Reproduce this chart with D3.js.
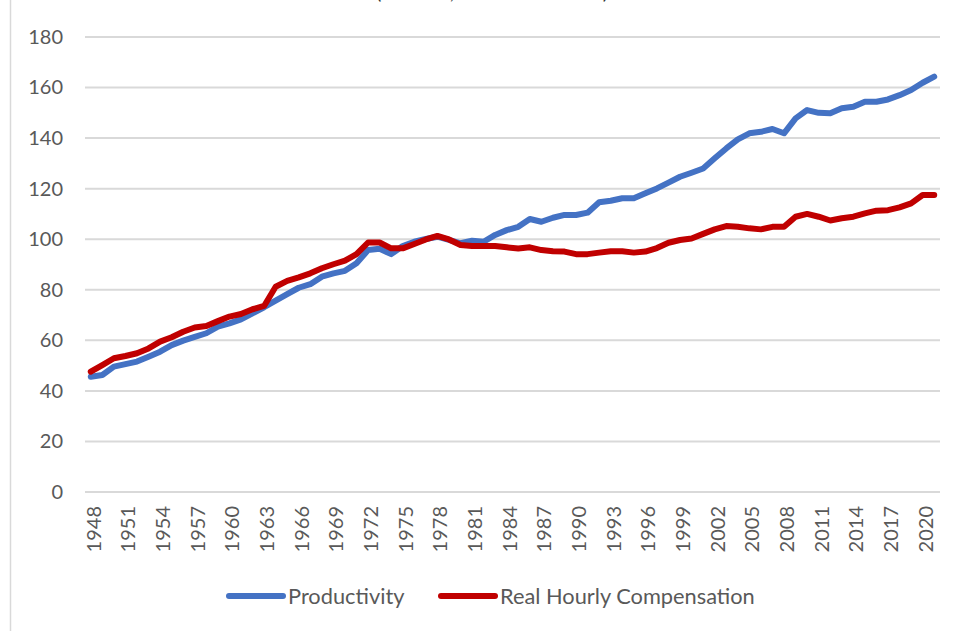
<!DOCTYPE html>
<html>
<head>
<meta charset="utf-8">
<script src="https://cdn.jsdelivr.net/npm/d3@7"></script>
<style>
  body { margin: 0; background: #fff; }
  svg { display: block; font-family: Lato, "Open Sans", sans-serif; }
</style>
</head>
<body>
<div id="chart"></div>
<script>
// values, 1948-2021
var years = d3.range(1948, 2022);

var productivity = [
  45.6, 46.3, 49.6, 50.6, 51.6, 53.5, 55.5, 58.1, 59.9, 61.4,
  62.8, 65.4, 66.7, 68.3, 70.7, 73.1, 75.7, 78.3, 80.8, 82.2,
  85.2, 86.5, 87.5, 90.5, 95.7, 96.2, 94.1, 97.3, 99.0, 100.1,
  101.0, 99.7, 98.4, 99.4, 99.0, 101.7, 103.6, 104.9, 108.0, 106.9,
  108.5, 109.6, 109.6, 110.5, 114.6, 115.2, 116.2, 116.2, 118.2, 120.1,
  122.4, 124.7, 126.3, 128.0, 132.0, 135.9, 139.5, 141.9, 142.5, 143.6,
  141.9, 147.8, 151.1, 150.0, 149.8, 151.8, 152.4, 154.4, 154.4, 155.3,
  157.0, 159.0, 161.9, 164.3
];

var compensation = [
  47.6, 50.2, 52.9, 53.8, 54.9, 56.8, 59.5, 61.2, 63.4, 65.1,
  65.7, 67.6, 69.4, 70.4, 72.3, 73.6, 81.2, 83.5, 84.9, 86.5,
  88.5, 90.1, 91.5, 94.1, 98.7, 98.7, 96.4, 96.4, 98.1, 99.9,
  101.3, 99.9, 97.7, 97.3, 97.3, 97.3, 96.8, 96.3, 96.8, 95.7,
  95.2, 95.1, 94.1, 94.1, 94.7, 95.2, 95.2, 94.7, 95.1, 96.5,
  98.6, 99.7, 100.3, 102.1, 103.9, 105.2, 104.9, 104.3, 103.9, 104.9,
  104.9, 108.9, 110.0, 108.9, 107.4, 108.3, 108.9, 110.2, 111.3, 111.5,
  112.6, 114.2, 117.5, 117.5
];

var yTicks = [0, 20, 40, 60, 80, 100, 120, 140, 160, 180];
var xTickYears = years.filter(function(y) { return (y - 1948) % 3 === 0; });

var seriesNames = ["Productivity", "Real Hourly Compensation"];
var seriesColors = ["#4472C4", "#C00000"];

var width = 958, height = 631;
var plotLeft = 85, plotRight = 940, plotTop = 37, plotBottom = 492;

var svg = d3.select("#chart").append("svg")
  .attr("width", width)
  .attr("height", height);

// frame edge on the left
svg.append("line")
  .attr("x1", 10.5).attr("x2", 10.5)
  .attr("y1", 0).attr("y2", height)
  .attr("stroke", "#d9d9d9")
  .attr("stroke-width", 1.5);

// bit of the title that is cut off at the top
svg.append("text")
  .attr("x", 376)
  .attr("y", -1)
  .attr("textLength", 232)
  .attr("font-size", 20)
  .attr("fill", "#333")
  .text("(Index, 1979 = 100)");

var x = d3.scaleBand()
  .domain(years)
  .range([plotLeft, plotRight]);

var y = d3.scaleLinear()
  .domain([0, 180])
  .range([plotBottom, plotTop]);

var cx = function(yr) { return x(yr) + x.bandwidth() / 2; };

// gridlines
svg.append("g")
  .selectAll("line")
  .data(yTicks)
  .join("line")
  .attr("x1", plotLeft).attr("x2", plotRight)
  .attr("y1", function(d) { return y(d); })
  .attr("y2", function(d) { return y(d); })
  .attr("stroke", "#d9d9d9")
  .attr("stroke-width", 2);

// y axis labels
var yAxis = d3.axisLeft(y).tickValues(yTicks).tickSize(0).tickPadding(0);
svg.append("g")
  .attr("transform", "translate(63,0)")
  .call(yAxis)
  .call(function(g) { g.select(".domain").remove(); })
  .selectAll("text")
  .attr("font-family", "Lato, sans-serif")
  .attr("font-size", 20)
  .attr("fill", "#595959");

// x axis labels, rotated
var xAxis = d3.axisBottom(x).tickValues(xTickYears).tickSize(0).tickPadding(0);
svg.append("g")
  .attr("transform", "translate(0," + plotBottom + ")")
  .call(xAxis)
  .call(function(g) { g.select(".domain").remove(); })
  .selectAll("text")
  .attr("font-family", "Lato, sans-serif")
  .attr("font-size", 20)
  .attr("fill", "#595959")
  .attr("text-anchor", "end")
  .attr("dy", null)
  .attr("y", 0)
  .attr("transform", "translate(2,14) rotate(-90)")
  .attr("dominant-baseline", "central");

var line = d3.line()
  .x(function(d, i) { return cx(years[i]); })
  .y(function(d) { return y(d); });

[productivity, compensation].forEach(function(vals, i) {
  svg.append("path")
    .datum(vals)
    .attr("fill", "none")
    .attr("stroke", seriesColors[i])
    .attr("stroke-width", 6)
    .attr("stroke-linejoin", "round")
    .attr("stroke-linecap", "round")
    .attr("d", line);
});

// legend
var legendX = [229, 441];
var legend = svg.append("g");
seriesNames.forEach(function(name, i) {
  legend.append("line")
    .attr("x1", legendX[i]).attr("x2", legendX[i] + 54)
    .attr("y1", 596).attr("y2", 596)
    .attr("stroke", seriesColors[i])
    .attr("stroke-width", 6)
    .attr("stroke-linecap", "round");
  legend.append("text")
    .attr("x", legendX[i] + 59)
    .attr("y", 596)
    .attr("dy", "0.35em")
    .attr("font-size", 21.8)
    .attr("fill", "#595959")
    .text(name);
});
</script>
</body>
</html>
